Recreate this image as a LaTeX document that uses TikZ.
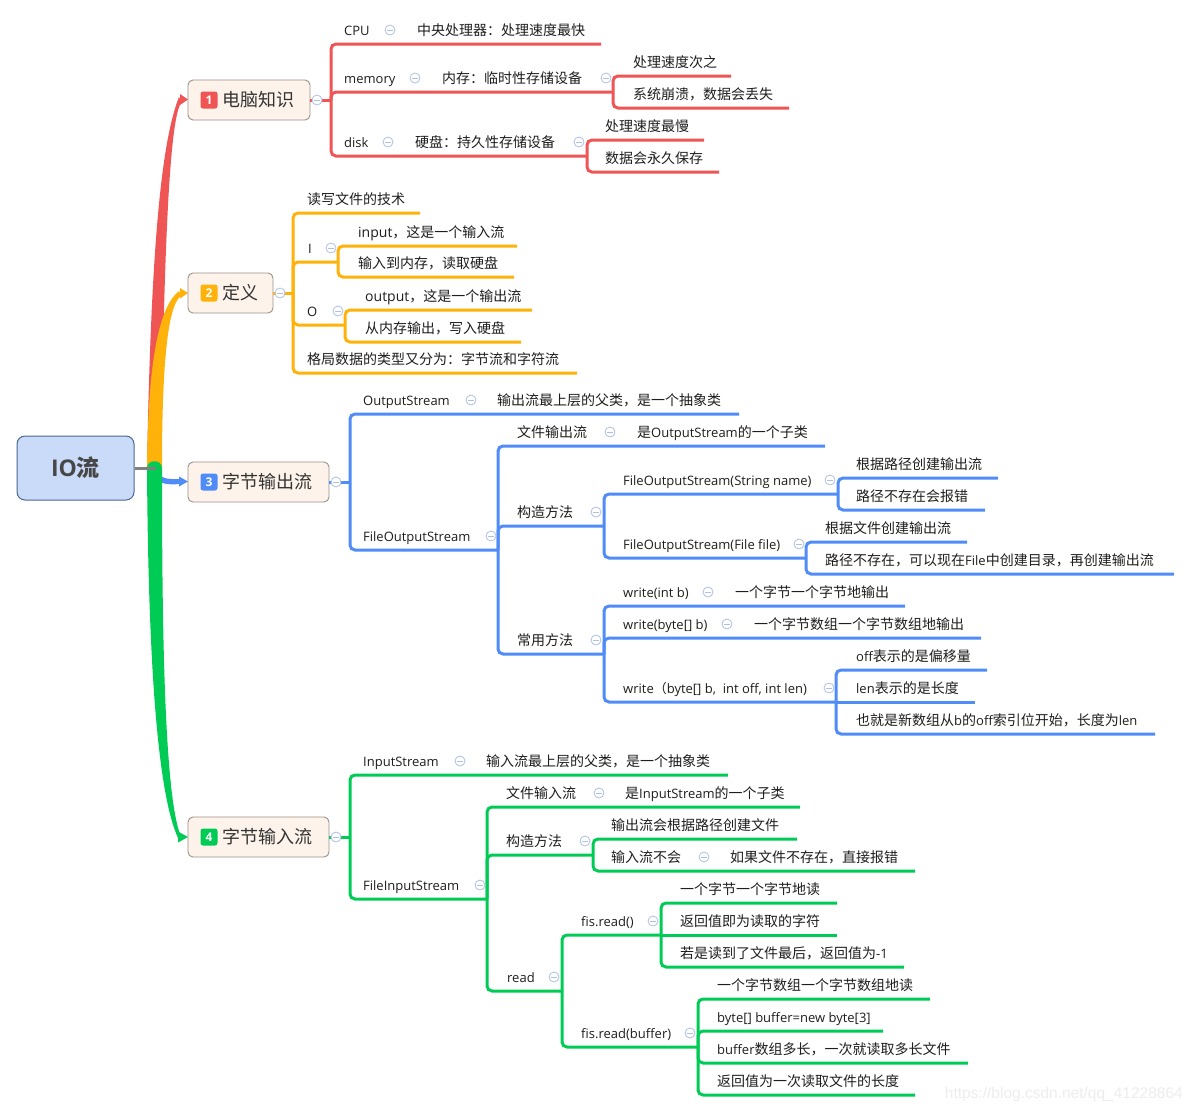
\documentclass[tikz,border=0pt]{standalone}
\usepackage{fontspec}
\setmainfont{Open Sans}
\newfontfamily\cjkfont{Noto Sans CJK SC}
\newfontfamily\latfont{Open Sans}
\newfontfamily\wmfont{Liberation Sans}
\XeTeXinterchartokenstate=1
\newXeTeXintercharclass\CJKcls
\newcount\cjkcnt
\newcommand\setcjkrange[2]{\cjkcnt=#1\relax
  \loop
    \XeTeXcharclass\cjkcnt=\CJKcls
    \advance\cjkcnt by 1\relax
  \ifnum\cjkcnt<#2\relax
  \repeat}
\setcjkrange{"3000}{"3040}
\setcjkrange{"4E00}{"A000}
\setcjkrange{"FF00}{"FFF0}
\XeTeXinterchartoks 0 \CJKcls = {\cjkfont}
\XeTeXinterchartoks 4095 \CJKcls = {\cjkfont}
\XeTeXinterchartoks \CJKcls 0 = {\latfont}
\XeTeXinterchartoks \CJKcls 4095 = {\latfont}

\definecolor{cr}{HTML}{F05555}
\definecolor{co}{HTML}{FFB20A}
\definecolor{cb}{HTML}{508CF8}
\definecolor{cg}{HTML}{00CC55}
\definecolor{txtc}{HTML}{1E1E1E}
\definecolor{mcc}{HTML}{AEC0E6}
\definecolor{rootfill}{HTML}{C9DBF8}
\definecolor{rootdraw}{HTML}{4C6792}
\definecolor{roottxt}{HTML}{474747}
\definecolor{topfill}{HTML}{FDF3EA}
\definecolor{topdraw}{HTML}{9C9088}
\definecolor{toptxt}{HTML}{333333}
\definecolor{wmc}{HTML}{EDEDED}

\newcommand\mmT[4]{\node[tx] (#1) at (#2,#3-9) {#4};}
\newcommand\mmL[4]{\node[lt] (#1) at (#2,#3-9) {#4};}
\newcommand\mmC[3]{\node[mc] (#1) at (#2,#3-14) {};}
\newcommand\sm[1]{{\fontsize{13}{15}\selectfont #1}}

\tikzset{
 tx/.style={anchor=base west, inner sep=0pt, font=\fontsize{14}{16}\selectfont, text=txtc},
 lt/.style={tx, font=\fontsize{13}{16}\selectfont},
 mc/.style={circle, draw=mcc, fill=white, line width=0.8pt, minimum size=10pt, inner sep=0pt,
   path picture={\draw[mcc, line width=1pt] ([xshift=-2.8pt]path picture bounding box.center) -- ([xshift=2.8pt]path picture bounding box.center);}},
 lr/.style={draw=cr, line width=3pt, rounded corners=5pt},
 lo/.style={lr, draw=co}, lb/.style={lr, draw=cb}, lg/.style={lr, draw=cg},
 topic/.style={draw=topdraw, fill=topfill, rounded corners=5pt, line width=0.9pt, minimum height=40pt, inner sep=0pt},
 badge/.style={rounded corners=2.5pt, minimum width=17pt, minimum height=17pt, inner sep=0pt, text=white, font=\bfseries\fontsize{12}{12}\selectfont},
 tt/.style={anchor=west, inner sep=0pt, font=\fontsize{18}{20}\selectfont, text=toptxt},
 rootbox/.style={draw=rootdraw, fill=rootfill, rounded corners=8pt, line width=1pt, minimum width=117pt, minimum height=64pt, inner sep=0pt, font=\bfseries\fontsize{23}{26}\selectfont, text=roottxt},
}

\begin{document}
\begin{tikzpicture}[x=1pt,y=-1pt]
\fill[white] (0,0) rectangle (1192,1112);
\useasboundingbox (0,0) rectangle (1192,1112);

% ---------- main tapered branches ----------
\fill[cr] (147,468) .. controls (151,240) and (162,140) .. (179,97) -- (182,102)
  .. controls (170,112) and (164,240) .. (161,468) -- cycle;
\fill[cr] (180,94) -- (188,99.5) -- (180,105) -- cycle;
\fill[co] (147,468) .. controls (148,380) and (155,310) .. (179,291) -- (181,296)
  .. controls (166,306) and (162,380) .. (162,468) -- cycle;
\fill[co] (180,288) -- (188,293) -- (180,298.5) -- cycle;
\fill[cb] (158,472) .. controls (162,480) and (170,479) .. (180,479) -- (180,484)
  .. controls (168,485) and (160,484) .. (156,478) -- cycle;
\fill[cb] (179,476.5) -- (188,481.5) -- (179,486.5) -- cycle;
\fill[cg] (147,468) .. controls (148,620) and (154,790) .. (179,840) -- (180,834)
  .. controls (164,790) and (162,620) .. (162,468) .. controls (162,459) and (147,459) .. (147,468) -- cycle;
\fill[cg] (178,831.5) -- (188,837) -- (178,842.5) -- cycle;

% ---------- root ----------
\node[rootbox] (root) at (75.5,468) {IO流};
\draw[line width=3pt, draw=black!50] (root.east) -- (156,468);

% ---------- topics ----------
\node[topic, minimum width=122pt] (n1) at (249,100) {};
\node[badge, fill=cr] (b1) at (209,100) {1};
\node[tt] (t1) at (222,100) {电脑知识};
\node[topic, minimum width=85pt] (n2) at (230.5,293) {};
\node[badge, fill=co] (b2) at (209,293) {2};
\node[tt] (t2) at (222,293) {定义};
\node[topic, minimum width=141pt] (n3) at (258.5,482) {};
\node[badge, fill=cb] (b3) at (209,482) {3};
\node[tt] (t3) at (222,482) {字节输出流};
\node[topic, minimum width=141pt] (n4) at (258.5,837) {};
\node[badge, fill=cg] (b4) at (209,837) {4};
\node[tt] (t4) at (222,837) {字节输入流};

% ---------- red lines ----------
\coordinate (R0) at (331,100);
\coordinate (R1) at (613,92);
\coordinate (R2) at (587,156);
\draw[lr] (n1.east) -- (R0);
\draw[lr] (R0) |- (601,44);
\draw[lr] (R0) |- (R1);
\draw[lr] (R0) |- (R2);
\draw[lr] (R1) |- (731,76);
\draw[lr] (R1) |- (789,108);
\draw[lr] (R2) |- (704,140);
\draw[lr] (R2) |- (719,172);

% ---------- orange lines ----------
\coordinate (O0) at (293,293);
\coordinate (O1) at (338,262);
\coordinate (O2) at (345,325);
\draw[lo] (n2.east) -- (O0);
\draw[lo] (O0) |- (420,213);
\draw[lo] (O0) |- (O1);
\draw[lo] (O0) |- (O2);
\draw[lo] (O0) |- (577,373);
\draw[lo] (O1) |- (517,246);
\draw[lo] (O1) |- (514,277);
\draw[lo] (O2) |- (532,310);
\draw[lo] (O2) |- (521,342);

% ---------- blue lines ----------
\coordinate (B0) at (350,482);
\coordinate (B1) at (498,550);
\coordinate (B2) at (604,526);
\coordinate (B3) at (838,494);
\coordinate (B4) at (806,558);
\coordinate (B5) at (604,654);
\coordinate (B6) at (836,702);
\draw[lb] (n3.east) -- (B0);
\draw[lb] (B0) |- (739,414);
\draw[lb] (B0) |- (B1);
\draw[lb] (B1) |- (825,446);
\draw[lb] (B1) |- (B2);
\draw[lb] (B1) |- (B5);
\draw[lb] (B2) |- (B3);
\draw[lb] (B2) |- (B4);
\draw[lb] (B3) |- (998,478);
\draw[lb] (B3) |- (985,510);
\draw[lb] (B4) |- (967,542);
\draw[lb] (B4) |- (1174,574);
\draw[lb] (B5) |- (905,606);
\draw[lb] (B5) |- (981,638);
\draw[lb] (B5) |- (B6);
\draw[lb] (B6) |- (987,670);
\draw[lb] (B6) -- (975,702);
\draw[lb] (B6) |- (1155,734);

% ---------- green lines ----------
\coordinate (G0) at (350,837);
\coordinate (G1) at (487,899);
\coordinate (G2) at (593,855);
\coordinate (G3) at (562,991);
\coordinate (G4) at (661,935);
\coordinate (G5) at (698,1047);
\draw[lg] (n4.east) -- (G0);
\draw[lg] (G0) |- (728,775);
\draw[lg] (G0) |- (G1);
\draw[lg] (G1) |- (800,807);
\draw[lg] (G1) |- (G2);
\draw[lg] (G1) |- (G3);
\draw[lg] (G2) |- (797,839);
\draw[lg] (G2) |- (915,871);
\draw[lg] (G3) |- (G4);
\draw[lg] (G3) |- (G5);
\draw[lg] (G4) |- (837,903);
\draw[lg] (G4) -- (837,935);
\draw[lg] (G4) |- (904,967);
\draw[lg] (G5) |- (930,999);
\draw[lg] (G5) |- (883,1031);
\draw[lg] (G5) |- (968,1063);
\draw[lg] (G5) |- (915,1095);

% ---------- collapse markers ----------
\node[mc] (m1) at (317,100) {};
\node[mc] (m2) at (280,293) {};
\node[mc] (m3) at (336,482) {};
\node[mc] (m4) at (336,837) {};
\mmC{mr1}{390}{44}
\mmC{mr2}{415}{92}
\mmC{mr3}{606}{92}
\mmC{mr4}{388}{156}
\mmC{mr5}{579}{156}
\mmC{mo1}{331}{262}
\mmC{mo2}{338}{325}
\mmC{mb1}{471}{414}
\mmC{mb2}{491}{550}
\mmC{mb3}{610}{446}
\mmC{mb4}{596}{526}
\mmC{mb5}{830}{494}
\mmC{mb6}{799}{558}
\mmC{mb7}{596}{654}
\mmC{mb8}{708}{606}
\mmC{mb9}{727}{638}
\mmC{mb10}{829}{702}
\mmC{mg1}{460}{775}
\mmC{mg2}{480}{899}
\mmC{mg3}{599}{807}
\mmC{mg4}{585}{855}
\mmC{mg5}{704}{871}
\mmC{mg6}{554}{991}
\mmC{mg7}{653}{935}
\mmC{mg8}{690}{1047}

% ---------- red texts ----------
\mmL{r1}{344}{44}{CPU}
\mmT{r2}{417}{44}{中央处理器：处理速度最快}
\mmL{r3}{344}{92}{memory}
\mmT{r4}{442}{92}{内存：临时性存储设备}
\mmT{r5}{633}{76}{处理速度次之}
\mmT{r6}{633}{108}{系统崩溃，数据会丢失}
\mmL{r7}{344}{156}{disk}
\mmT{r8}{415}{156}{硬盘：持久性存储设备}
\mmT{r9}{605}{140}{处理速度最慢}
\mmT{r10}{605}{172}{数据会永久保存}

% ---------- orange texts ----------
\mmT{o1}{307}{213}{读写文件的技术}
\mmL{o2}{308}{262}{I}
\mmT{o3}{358}{246}{input，这是一个输入流}
\mmT{o4}{358}{277}{输入到内存，读取硬盘}
\mmL{o5}{307}{325}{O}
\mmT{o6}{365}{310}{output，这是一个输出流}
\mmT{o7}{365}{342}{从内存输出，写入硬盘}
\mmT{o8}{307}{373}{格局数据的类型又分为：字节流和字符流}

% ---------- blue texts ----------
\mmL{s1}{363}{414}{OutputStream}
\mmT{s2}{497}{414}{输出流最上层的父类，是一个抽象类}
\mmL{s3}{363}{550}{FileOutputStream}
\mmT{s4}{517}{446}{文件输出流}
\mmT{s5}{637}{446}{是\sm{OutputStream}的一个子类}
\mmT{s6}{517}{526}{构造方法}
\mmL{s7}{623}{494}{FileOutputStream(String name)}
\mmT{s8}{856}{478}{根据路径创建输出流}
\mmT{s9}{856}{510}{路径不存在会报错}
\mmL{s10}{623}{558}{FileOutputStream(File file)}
\mmT{s11}{825}{542}{根据文件创建输出流}
\mmT{s12}{825}{574}{路径不存在，可以现在\sm{File}中创建目录，再创建输出流}
\mmT{s13}{517}{654}{常用方法}
\mmL{s14}{623}{606}{write(int b)}
\mmT{s15}{735}{606}{一个字节一个字节地输出}
\mmL{s16}{623}{638}{write(byte[] b)}
\mmT{s17}{754}{638}{一个字节数组一个字节数组地输出}
\mmL{s18}{623}{702}{write（byte[] b,\ \ int off, int len)}
\mmT{s19}{856}{670}{\sm{off}表示的是偏移量}
\mmT{s20}{856}{702}{\sm{len}表示的是长度}
\mmT{s21}{856}{734}{也就是新数组从\sm{b}的\sm{off}索引位开始，长度为\sm{len}}

% ---------- green texts ----------
\mmL{g1}{363}{775}{InputStream}
\mmT{g2}{486}{775}{输入流最上层的父类，是一个抽象类}
\mmL{g3}{363}{899}{FileInputStream}
\mmT{g4}{506}{807}{文件输入流}
\mmT{g5}{625}{807}{是\sm{InputStream}的一个子类}
\mmT{g6}{506}{855}{构造方法}
\mmT{g7}{611}{839}{输出流会根据路径创建文件}
\mmT{g8}{611}{871}{输入流不会}
\mmT{g9}{730}{871}{如果文件不存在，直接报错}
\mmL{g10}{507}{991}{read}
\mmL{g11}{581}{935}{fis.read()}
\mmT{g12}{680}{903}{一个字节一个字节地读}
\mmT{g13}{680}{935}{返回值即为读取的字符}
\mmT{g14}{680}{967}{若是读到了文件最后，返回值为\sm{-1}}
\mmL{g15}{581}{1047}{fis.read(buffer)}
\mmT{g16}{717}{999}{一个字节数组一个字节数组地读}
\mmL{g17}{717}{1031}{byte[] buffer=new byte[3]}
\mmT{g18}{717}{1063}{\sm{buffer}数组多长，一次就读取多长文件}
\mmT{g19}{717}{1095}{返回值为一次读取文件的长度}

% ---------- watermark ----------
\node[anchor=east, inner sep=0pt, text=wmc, font=\wmfont\fontsize{15.5}{17}\selectfont] (wm) at (1183,1094) {https://blog.csdn.net/qq\_41228864};
\end{tikzpicture}
\end{document}
